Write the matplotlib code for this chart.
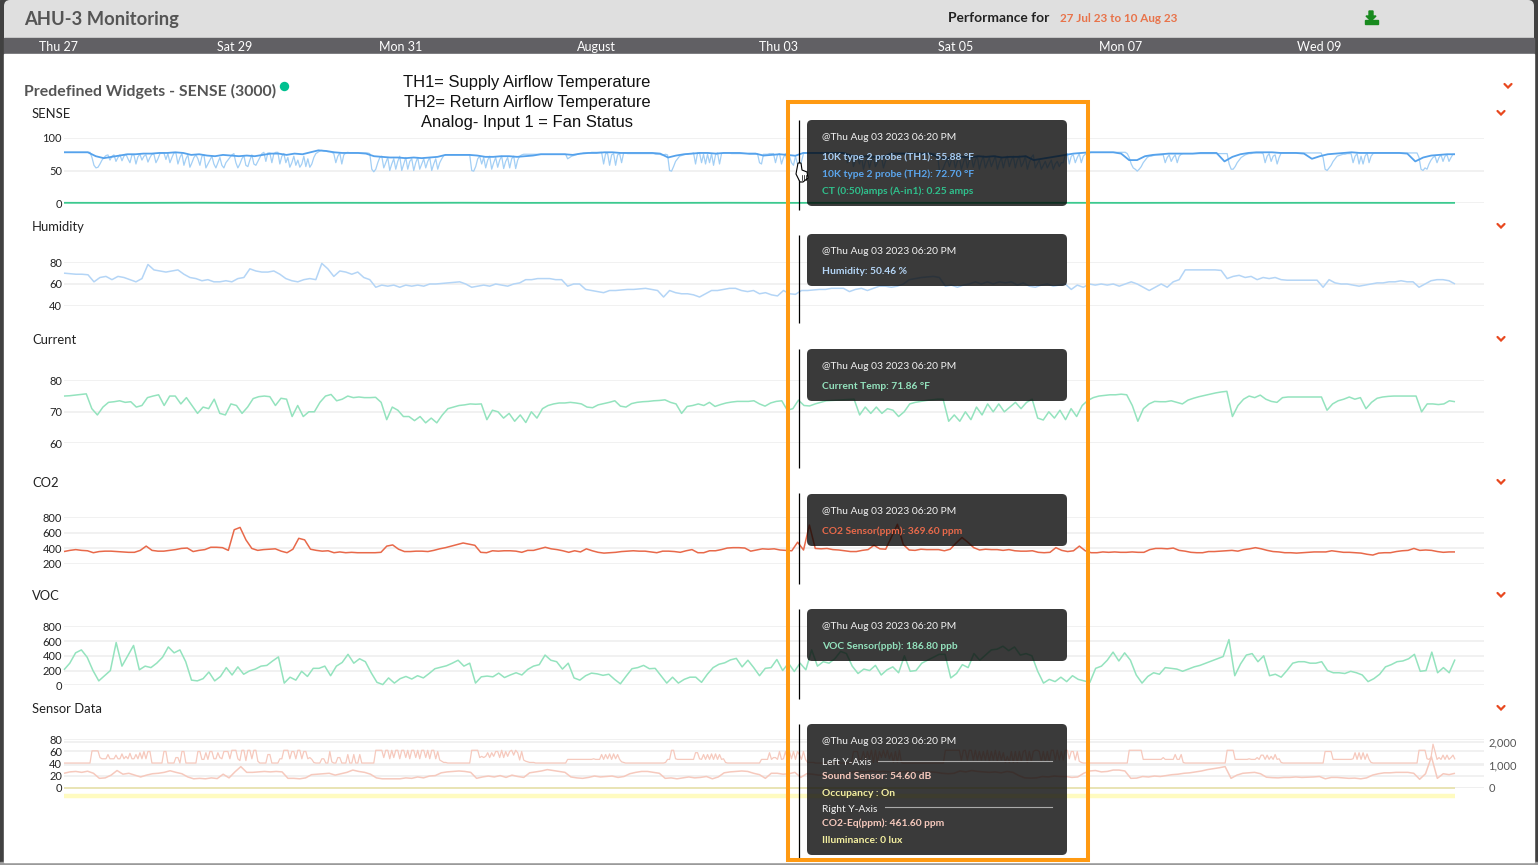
import numpy as np
import matplotlib
matplotlib.use("Agg")
import matplotlib.pyplot as plt
from matplotlib.colors import to_rgb
from matplotlib.patches import FancyBboxPatch, Polygon, Rectangle
from matplotlib.ticker import FuncFormatter

W, H = 1538, 865
X0, X_END, X_GRID = 64, 1455, 1484
DAY_SPAN = 14.0
PX_PER_DAY = (X_END - X0) / DAY_SPAN

date_labels = ["Thu 27", "Sat 29", "Mon 31", "August", "Thu 03", "Sat 05", "Mon 07", "Wed 09"]
date_days = [-0.06, 1.72, 3.39, 5.36, 7.19, 8.97, 10.63, 12.63]

th1 = [
    78, 78, 78, 78, 78, 78, 78, 78, 78, 78, 78, 78, 78, 78, 70, 58, 54, 55, 60, 66, 70, 73, 74, 66, 72,
    74, 64, 70, 74, 65, 72, 75, 68, 62, 74, 74, 60, 71, 75, 66, 72, 74, 63, 70, 75, 75, 62, 68, 76, 77,
    77, 67, 76, 62, 70, 77, 77, 60, 70, 76, 58, 68, 74, 55, 62, 70, 74, 68, 58, 72, 74, 54, 60, 66, 72,
    60, 54, 62, 70, 58, 54, 62, 66, 70, 74, 76, 62, 54, 60, 68, 73, 58, 56, 66, 74, 60, 58, 64, 70, 76,
    78, 64, 77, 77, 62, 76, 78, 78, 60, 72, 76, 62, 70, 55, 62, 72, 58, 66, 55, 60, 72, 56, 68, 55, 60,
    70, 76, 78, 80, 81, 80, 80, 79, 79, 78, 76, 62, 72, 77, 60, 74, 77, 78, 77, 77, 77, 77, 77, 77, 77,
    77, 77, 77, 76, 52, 48, 52, 62, 70, 72, 54, 62, 70, 50, 60, 68, 52, 64, 72, 50, 60, 70, 52, 64, 68,
    50, 62, 70, 52, 60, 68, 54, 64, 70, 50, 60, 68, 52, 62, 68, 73, 74, 74, 74, 74, 74, 74, 74, 74, 74,
    74, 74, 74, 74, 50, 49, 56, 68, 72, 60, 70, 54, 66, 72, 52, 62, 70, 55, 66, 72, 53, 64, 70, 54, 68,
    72, 53, 66, 72, 74, 75, 75, 75, 75, 75, 75, 75, 75, 75, 75, 75, 75, 75, 75, 75, 75, 75, 75, 75, 75,
    75, 75, 68, 70, 72, 73, 74, 75, 76, 76, 77, 77, 77, 77, 78, 78, 78, 78, 78, 78, 60, 76, 76, 58, 74,
    76, 58, 74, 76, 62, 77, 77, 76, 76, 76, 76, 76, 76, 76, 76, 76, 76, 76, 76, 76, 76, 75, 75, 75, 74,
    74, 75, 74, 50, 49, 56, 64, 68, 72, 73, 74, 75, 75, 76, 76, 77, 60, 77, 77, 62, 75, 60, 75, 62, 76,
    58, 74, 77, 60, 76, 77, 77, 77, 77, 76, 76, 76, 76, 76, 76, 76, 76, 76, 75, 75, 75, 75, 76, 62, 60,
    75, 75, 75, 76, 76, 76, 62, 74, 76, 60, 70, 76, 60, 72, 62, 58, 72, 60, 55.88, 64, 76, 77, 77, 77, 77,
    77, 77, 77, 77, 77, 77, 77, 77, 77, 77, 77, 77, 77, 77, 77, 77, 77, 62, 72, 74, 56, 66, 72, 60, 72,
    52, 64, 70, 54, 66, 72, 56, 62, 68, 72, 54, 64, 70, 76, 76, 76, 76, 76, 76, 76, 76, 76, 76, 76, 76,
    76, 76, 76, 76, 76, 76, 76, 76, 76, 76, 76, 76, 76, 50, 48, 54, 62, 68, 56, 66, 70, 54, 64, 70, 52,
    62, 72, 54, 66, 72, 55, 66, 72, 52, 64, 72, 54, 62, 70, 56, 64, 72, 52, 62, 70, 54, 66, 72, 56, 66,
    72, 54, 66, 72, 56, 62, 72, 52, 62, 70, 74, 54, 60, 66, 52, 58, 64, 54, 60, 66, 52, 60, 64, 56, 62,
    62, 74, 76, 60, 72, 74, 62, 70, 76, 62, 72, 75, 77, 77, 78, 78, 78, 78, 78, 78, 78, 78, 78, 78, 78,
    78, 78, 78, 78, 78, 78, 78, 76, 70, 60, 54, 52, 49, 52, 56, 62, 66, 70, 72, 72, 73, 74, 74, 74, 74,
    74, 62, 70, 74, 64, 70, 74, 62, 72, 75, 76, 76, 76, 76, 76, 76, 76, 76, 76, 76, 76, 76, 76, 76, 76,
    76, 76, 76, 76, 76, 76, 76, 76, 60, 52, 52, 56, 62, 66, 70, 72, 74, 75, 76, 76, 77, 77, 77, 77, 77,
    76, 62, 72, 76, 64, 72, 74, 60, 70, 77, 77, 77, 77, 77, 77, 77, 77, 77, 77, 77, 77, 77, 77, 77, 77,
    77, 77, 77, 77, 77, 70, 52, 50, 54, 58, 64, 68, 72, 73, 74, 75, 75, 76, 76, 76, 62, 72, 76, 60, 72,
    60, 72, 77, 62, 72, 76, 77, 77, 77, 77, 77, 77, 77, 77, 77, 77, 77, 77, 77, 77, 77, 77, 77, 77, 77,
    77, 77, 77, 70, 52, 50, 54, 52, 60, 66, 70, 72, 62, 70, 74, 64, 72, 74, 64, 70, 75, 75,
]
th2 = [
    78, 78, 78, 78, 72, 69, 71, 73, 75, 75, 76, 76,
    77, 77, 78, 77, 74, 75, 73, 72, 74, 73, 72, 73,
    72, 74, 76, 76, 74, 76, 75, 78, 81, 80, 78, 77,
    77, 77, 76, 72, 71, 70, 70, 69, 70, 69, 70, 71,
    74, 74, 74, 74, 73, 71, 71, 72, 72, 71, 72, 73,
    75, 75, 75, 75, 74, 76, 77, 77, 78, 78, 77, 77,
    77, 77, 77, 76, 70, 73, 75, 76, 77, 77, 76, 77,
    77, 77, 76, 76, 73, 74, 75, 74, 72.7, 77, 77, 77,
    77, 77, 77, 73, 71, 72, 71, 70, 76, 76, 76, 76,
    76, 76, 70, 68, 72, 71, 70, 72, 71, 72, 70, 71,
    71, 72, 66, 68, 70, 72, 74, 76, 77, 78, 78, 78,
    78, 76, 66, 66, 72, 74, 75, 76, 76, 76, 76, 77,
    77, 77, 64, 71, 75, 77, 78, 78, 78, 77, 77, 77,
    76, 68, 72, 75, 76, 77, 78, 77, 77, 77, 77, 77,
    77, 76, 64, 70, 73, 74, 75, 75,
]
ct_amps = [0.3, 0.2, 0.4, 0.2, 0.3, 0.25, 0.4, 0.2, 0.3, 0.2, 0.35, 0.2, 0.3, 0.25, 0.25, 0.3, 0.2, 0.3, 0.2, 0.3, 0.25, 0.2]

humidity = [
    70, 69.5, 69, 69, 68.5, 62, 66, 67, 64, 67, 66, 64, 62, 65, 78, 73, 72, 71, 72, 73, 69, 66, 65, 63, 64,
    62, 62, 63, 62, 65, 66, 74, 72, 71, 71, 72, 69, 65, 63, 62, 64, 65, 64, 79, 74, 67, 72, 71, 69, 71,
    66, 64, 57, 59, 58, 59, 57, 59, 58, 59, 58, 60, 60, 60.5, 61, 61.5, 62, 60, 57, 58, 59, 58, 60, 59, 58,
    60, 61, 64, 64, 65, 65, 65, 64, 64, 58, 60, 60, 55, 54, 53, 52, 54, 54, 54.5, 55, 55, 55.5, 56, 55, 54,
    48, 54, 52, 51, 51, 50, 48, 51, 54, 54, 55, 56, 56, 54, 53, 54, 51, 52, 50, 49, 54, 51,
    50.46, 54, 54, 54.5, 55, 55, 56, 56, 56, 53, 55, 56, 54, 56, 58, 58, 57, 58, 60, 64, 65, 66, 66.5, 67, 66,
    58, 59, 57, 59, 60, 62, 60, 62, 60, 62, 61, 62, 59, 61, 58, 57, 59, 60, 58, 59, 60, 55, 59, 57, 60,
    59, 60, 59, 60, 58, 60, 62, 60, 57, 54, 57, 60, 57, 62, 64, 73, 73, 73, 73, 73, 73, 72.5, 65, 67, 68,
    66, 67, 64, 66, 65, 66, 64, 63.5, 63.5, 63.5, 63.5, 63.5, 63.5, 57, 64, 61, 60, 60, 59, 58, 59, 60, 61, 61, 62,
    62, 63, 62, 62, 57, 60, 63, 64, 64, 63, 60,
]
current_temp = [
    75.0, 75.1, 75.3, 75.5, 75.7, 71, 69, 71.5, 73, 73.2, 73.5, 73, 73.2, 71.5, 72, 74.5, 75, 75.4, 72, 75, 75, 72.5, 74.5, 72, 69.5,
    71.5, 71, 74, 69.5, 69, 72.5, 72, 69.5, 71.5, 74.2, 74.8, 75, 74.8, 72, 74.3, 74, 68.5, 72, 68.5, 70, 70, 73, 75, 75.5, 73.5,
    74, 75, 74.5, 74.7, 74.5, 74.5, 74.6, 73, 67.5, 71.5, 70.5, 68.5, 68.5, 67.2, 68.5, 66.5, 68, 66.5, 69, 71, 71.5, 72, 72.2, 72.5, 72.4,
    72.5, 67.5, 70.5, 70, 68, 69.5, 67, 69, 66.6, 70, 68, 71, 72, 72.5, 72.8, 72.8, 73, 72.8, 72.5, 71.5, 71.3, 72.2, 72.6, 73, 73.5,
    71.8, 71.5, 72.6, 73, 73.2, 73.3, 73.5, 73.6, 73.8, 73, 72.5, 69.5, 71.7, 72, 72.5, 72, 73, 71.7, 72.3, 72.8, 73.1, 73.3, 73.3, 73.3, 73.5,
    72.5, 71.8, 72.8, 73.3, 73.5, 70.5, 71, 73.7, 72,
    71.86, 72.5, 73, 73.5, 73.6, 73.7, 73.8, 73.9, 74, 69, 71.5, 69.5, 71.5, 69.5, 71, 70.5, 68.5, 70, 72.5, 73, 73.3, 73.6, 73.8, 74, 74,
    67, 69, 67, 70, 67.5, 71.5, 69, 72.5, 70, 72.5, 70, 71.5, 73, 71, 73, 74, 68, 67.4, 70, 68, 70.5, 67.5, 71, 68.5, 72,
    73.6, 74.5, 75, 75.2, 75.4, 75.4, 75.6, 75.4, 72, 67, 71, 72.5, 73.3, 73.2, 73.2, 73.5, 73, 72.5, 73.7, 74.3, 74.8, 75.2, 75.6, 76, 76.3,
    76.5, 68.5, 72, 74, 75, 74.5, 75.3, 74, 73.3, 73, 74.5, 74.7, 74.7, 74.7, 74.7, 74.7, 74.7, 74.7, 70.5, 72.5, 73.5, 74, 74.7, 74, 74.5,
    71, 73, 74.3, 74.7, 74.9, 75, 75, 75, 75, 75, 70, 72.5, 72.5, 72.3, 72.5, 73.5, 73.2,
]
co2_ppm = [
    360, 375, 385, 375, 370, 345, 360, 365, 365, 360, 355, 350, 350, 375, 430, 375, 365, 365, 375, 385, 400, 405, 360, 375, 385,
    415, 415, 410, 375, 640, 670, 510, 400, 375, 385, 390, 395, 365, 345, 390, 530, 510, 390, 375, 365, 370, 345, 355, 345,
    350, 345, 345, 345, 345, 350, 430, 445, 390, 360, 360, 365, 365, 360, 375, 395, 410, 430, 450, 470, 455, 440, 350, 345, 370, 365,
    370, 370, 365, 350, 375, 375, 395, 415, 395, 385, 370, 350, 370, 355, 395, 370, 350, 340, 345, 350, 360, 365, 370, 365, 365,
    355, 345, 365, 365, 360, 350, 370, 385, 345, 345, 370, 370, 385, 405, 410, 410, 405, 365, 380, 395, 390, 395, 380, 375,
    369.6, 480, 380, 700, 400, 395, 400, 385, 380, 370, 360, 360, 375, 385, 440, 395, 390, 550, 710, 450, 380, 375, 390, 385, 385,
    385, 370, 390, 470, 540, 480, 410, 380, 390, 385, 385, 375, 385, 370, 365, 365, 370, 350, 345, 350, 410, 375, 360, 370,
    430, 370, 345, 345, 355, 350, 355, 350, 350, 355, 350, 350, 385, 400, 400, 395, 405, 375, 365, 350, 345, 345, 360, 360, 365,
    370, 375, 365, 385, 395, 410, 395, 375, 360, 355, 345, 345, 340, 345, 350, 355, 355, 355, 370, 360, 350, 350, 345, 340, 325,
    315, 340, 345, 345, 360, 370, 375, 400, 375, 380, 375, 360, 350, 355, 355,
]
voc_ppb = [
    210, 300, 440, 480, 380, 200, 60, 130, 200, 580, 260, 400, 540, 210, 260, 240, 300, 380, 520, 440, 480, 320, 70, 60, 90,
    180, 60, 120, 240, 140, 250, 150, 195, 220, 260, 270, 330, 385, 30, 110, 70, 190, 120, 230, 230, 260, 130, 260, 310, 420,
    300, 360, 320, 170, 40, 10, 100, 30, 90, 120, 85, 130, 100, 160, 225, 245, 265, 300, 340, 260, 300, 30, 115, 125, 115,
    165, 105, 140, 170, 140, 215, 260, 280, 410, 340, 320, 220, 300, 100, 70, 130, 165, 155, 135, 150, 80, 20, 125, 225, 240,
    270, 225, 230, 130, 30, 110, 30, 80, 110, 110, 40, 150, 240, 285, 305, 345, 365, 250, 340, 240, 130, 230, 240, 350, 200,
    300, 186.8, 300,
    210, 480, 260, 320, 300, 360, 460, 430, 260, 160, 220, 200, 270, 140, 210, 250, 170, 400, 190, 200, 300, 340, 380, 420, 420,
    100, 160, 280, 240, 430, 340, 410, 480, 490, 530, 470, 520, 410, 430, 400, 190, 30, 80, 50, 110, 50, 130, 80, 60, 40,
    230, 260, 340, 450, 330, 440, 340, 140, 30, 120, 170, 150, 240, 230, 220, 190, 220, 250, 270, 300, 330, 360, 390, 620, 130,
    290, 410, 430, 320, 400, 130, 150, 110, 200, 300, 320, 320, 300, 300, 320, 200, 170, 170, 160, 190, 170, 140, 50, 90, 150,
    250, 280, 320, 330, 360, 420, 190, 200, 450, 170, 240, 170, 350,
]
sound_db = [
    41, 41, 41, 41, 41, 41, 41, 41, 41, 41, 41, 41, 41, 41, 61, 61, 61, 61, 50, 48, 48, 48, 55, 48, 48,
    48, 54, 48, 48, 56, 48, 52, 48, 57, 48, 48, 55, 48, 58, 48, 60, 48, 60, 60, 41, 41, 41, 41, 41, 41,
    60, 60, 41, 41, 41, 41, 50, 50, 41, 60, 60, 41, 41, 41, 41, 41, 41, 60, 60, 47, 47, 58, 47, 60, 60,
    48, 48, 58, 50, 48, 60, 60, 60, 48, 62, 62, 62, 48, 45, 62, 62, 45, 62, 62, 48, 62, 62, 44, 41, 41,
    41, 41, 55, 55, 41, 41, 41, 41, 48, 48, 62, 62, 62, 48, 60, 60, 48, 62, 62, 48, 60, 60, 48, 50, 47,
    42, 41, 41, 41, 48, 48, 41, 41, 60, 43, 41, 41, 50, 50, 41, 41, 41, 55, 41, 41, 55, 41, 41, 55, 41,
    41, 41, 41, 41, 41, 41, 62, 62, 62, 62, 50, 62, 62, 48, 62, 50, 62, 62, 48, 62, 62, 50, 62, 48, 62,
    62, 50, 62, 48, 62, 62, 50, 62, 48, 62, 62, 48, 60, 46, 44, 42, 42, 41, 41, 41, 41, 41, 41, 41, 41,
    41, 41, 41, 41, 62, 62, 62, 62, 50, 52, 50, 52, 58, 50, 58, 52, 60, 60, 50, 62, 50, 60, 52, 60, 62,
    54, 62, 58, 46, 60, 46, 44, 43, 42, 42, 42, 41, 41, 41, 41, 41, 41, 41, 41, 41, 41, 41, 41, 41, 41,
    41, 41, 47, 47, 47, 47, 47, 47, 47, 47, 47, 47, 47, 47, 47, 48, 47, 47, 47, 55, 47, 55, 48, 56, 47,
    56, 48, 55, 47, 43, 42, 41, 41, 41, 41, 41, 41, 41, 41, 41, 41, 41, 41, 41, 41, 41, 41, 41, 41, 41,
    41, 42, 47, 47, 62, 62, 48, 47, 47, 47, 47, 47, 47, 47, 47, 47, 58, 58, 48, 47, 55, 47, 55, 47, 56,
    47, 56, 47, 55, 47, 48, 42, 41, 41, 41, 41, 41, 41, 41, 41, 41, 41, 41, 41, 41, 41, 41, 41, 41, 47,
    47, 47, 47, 58, 47, 50, 50, 47, 60, 47, 48, 60, 47, 60, 48, 60, 47, 60, 54.6, 47, 60, 47, 42, 42, 42,
    42, 41, 41, 41, 41, 41, 41, 41, 41, 41, 41, 41, 41, 41, 41, 41, 41, 41, 41, 41, 60, 60, 60, 45, 48,
    60, 45, 60, 48, 62, 42, 62, 42, 60, 50, 62, 50, 62, 48, 58, 42, 60, 42, 62, 42, 41, 41, 41, 41, 41,
    41, 41, 41, 41, 41, 41, 41, 41, 41, 41, 41, 41, 41, 41, 41, 41, 62, 62, 62, 62, 62, 62, 62, 62, 46,
    62, 62, 46, 62, 62, 46, 62, 46, 60, 46, 60, 46, 62, 44, 60, 46, 62, 44, 60, 46, 58, 42, 52, 42, 60,
    42, 60, 42, 60, 44, 60, 62, 42, 60, 44, 60, 62, 62, 60, 44, 60, 44, 60, 44, 62, 62, 46, 62, 46, 60,
    46, 62, 62, 48, 60, 60, 46, 60, 44, 42, 41, 41, 41, 41, 41, 41, 41, 41, 41, 41, 41, 41, 41, 41, 41,
    41, 41, 41, 41, 41, 41, 41, 41, 62, 62, 62, 62, 62, 62, 62, 47, 47, 47, 47, 47, 47, 47, 47, 47, 47,
    50, 47, 47, 47, 47, 47, 55, 47, 47, 55, 42, 41, 41, 41, 41, 41, 41, 41, 41, 41, 41, 41, 41, 41, 41,
    41, 41, 41, 41, 41, 41, 41, 62, 62, 62, 62, 47, 47, 47, 47, 47, 47, 47, 48, 47, 47, 47, 50, 47, 54,
    54, 47, 54, 47, 52, 47, 55, 47, 48, 42, 41, 41, 41, 41, 41, 41, 41, 41, 41, 41, 41, 41, 41, 41, 41,
    41, 41, 41, 41, 41, 41, 60, 60, 60, 60, 47, 47, 47, 47, 47, 47, 47, 47, 47, 47, 48, 58, 47, 58, 47,
    58, 47, 56, 47, 42, 41, 41, 41, 41, 41, 41, 41, 41, 41, 41, 41, 41, 41, 41, 41, 41, 41, 41, 41, 41,
    41, 41, 41, 62, 62, 62, 62, 48, 47, 50, 72, 60, 47, 50, 47, 54, 47, 54, 47, 50, 54, 47,
]
co2_eq_ppm = [
    640, 700, 720, 680, 730, 640, 420, 440, 560, 760, 600, 640, 560, 480, 560, 620, 640, 680, 750, 680, 620, 480, 400, 420, 400,
    440, 410, 600, 440, 700, 930, 680, 680, 700, 720, 700, 720, 700, 420, 420, 400, 440, 580, 600, 620, 640, 560, 620, 680, 780,
    720, 680, 600, 440, 400, 400, 400, 400, 440, 420, 480, 440, 520, 540, 660, 700, 720, 740, 720, 680, 420, 480, 520, 480, 540,
    460, 560, 500, 460, 660, 700, 740, 800, 760, 720, 680, 480, 440, 420, 460, 520, 480, 500, 520, 460, 500, 620, 680, 720, 720,
    680, 640, 420, 440, 400, 440, 480, 440, 460, 500, 400, 480, 660, 700, 720, 740, 720, 640, 580, 420, 640,
    640, 600, 620, 680, 461.6,
    620, 600, 560, 560, 560, 600, 560, 620, 700, 720, 700, 740, 700, 720, 700, 680, 700, 720, 680, 700, 660, 700, 680, 640, 620,
    640, 740, 700, 760, 720, 700, 680, 700, 660, 720, 680, 540, 440, 430, 440, 500, 480, 520, 500, 500, 460, 480, 640, 740, 760,
    700, 720, 780, 780, 740, 420, 430, 500, 480, 520, 500, 540, 580, 600, 640, 660, 700, 740, 800, 840, 880, 930, 420, 560, 640,
    660, 680, 620, 470, 450, 440, 460, 460, 480, 460, 470, 480, 500, 400, 460, 460, 440, 420, 430, 400, 440, 560, 620, 660, 660,
    680, 680, 680, 640, 380, 620, 1360, 420, 620, 580, 640,
]
illuminance_lux = [0, 0, 0, 0, 0, 0, 0, 0, 0, 0, 0, 0, 0, 0, 0]
occupancy_level = [-12.5, -12.5, -12.5, -12.5, -12.5, -12.5, -12.5, -12.5, -12.5, -12.5, -12.5, -12.5, -12.5, -12.5, -12.5]

plt.rcParams["font.family"] = ["Lato", "DejaVu Sans"]

fig = plt.figure(figsize=(W / 100, H / 100), dpi=100, facecolor="white")

# backdrop and page furniture sit on a full-figure axes measured in pixels
back = fig.add_axes([0, 0, 1, 1], zorder=0)
back.set_xlim(0, W)
back.set_ylim(H, 0)
back.axis("off")
back.add_patch(Rectangle((0, 0), W, H, color="#414141"))
back.add_patch(Rectangle((0, 862), W, 3, color="#9a9a9a"))
back.add_patch(FancyBboxPatch((9, 5), 1520, 60, boxstyle="round,pad=5,rounding_size=6", fc="#dfdfdf", ec="none"))
back.add_patch(Rectangle((4, 38), 1530, 16, color="#616064"))
back.add_patch(Rectangle((4, 54), 1530, 808, color="white"))


def make_panel(top_px, bottom_px, ticks):
    ax = fig.add_axes([X0 / W, 1 - bottom_px / H, (X_GRID - X0) / W, (bottom_px - top_px) / H], zorder=1)
    ax.patch.set_alpha(0)
    ax.set_xlim(0, (X_GRID - X0) / PX_PER_DAY)
    ax.set_ylim(ticks[0], ticks[-1])
    ax.set_yticks(ticks)
    ax.set_xticks([])
    ax.tick_params(axis="y", length=0, pad=1.5, labelsize=8, labelcolor="#222222")
    ax.grid(axis="y", color="#efefef", lw=1.2)
    ax.set_axisbelow(True)
    for s in ax.spines.values():
        s.set_visible(False)
    return ax


def draw(ax, values, color, lw=1.1):
    x = np.linspace(0, DAY_SPAN, len(values))
    ax.plot(x, values, color=color, lw=lw, clip_on=False, solid_joinstyle="round", solid_capstyle="butt")
    drawn.append((ax, x, values, color, lw))


drawn = []

ax_sense = make_panel(138, 203, [0, 50, 100])
draw(ax_sense, ct_amps, "#3cc98f", 1.3)
draw(ax_sense, th1, "#a3cff5", 0.9)
draw(ax_sense, th2, "#55a2ec", 1.3)

ax_hum = make_panel(262.3, 305.7, [40, 60, 80])
draw(ax_hum, humidity, "#b4d5f6")

ax_cur = make_panel(380.3, 443.3, [60, 70, 80])
draw(ax_cur, current_temp, "#94e3be")

ax_co2 = make_panel(517.3, 564, [200, 400, 600, 800])
draw(ax_co2, co2_ppm, "#e8694a")

ax_voc = make_panel(626.3, 685.3, [0, 200, 400, 600, 800])
draw(ax_voc, voc_ppb, "#94e3be")

ax_sensor = make_panel(739.3, 788, [0, 20, 40, 60, 80])
draw(ax_sensor, occupancy_level, "#fffbc0", 3.2)
draw(ax_sensor, sound_db, "#f6c9bd", 0.9)

ax_right = ax_sensor.twinx()
ax_right.patch.set_alpha(0)
ax_right.set_ylim(0, 2000 * 48.7 / 46)
ax_right.set_yticks([0, 1000, 2000])
ax_right.yaxis.set_major_formatter(FuncFormatter(lambda v, _: f"{int(v):,}"))
ax_right.tick_params(axis="y", length=0, pad=3, labelsize=8, labelcolor="#555555")
ax_right.grid(axis="y", color="#efefef", lw=1.2)
for s in ax_right.spines.values():
    s.set_visible(False)
draw(ax_right, co2_eq_ppm, "#f6c9bd", 1.1)
draw(ax_right, illuminance_lux, "#e9e4b4", 1.4)

# overlay: titles, tooltips and the highlight box
top = fig.add_axes([0, 0, 1, 1], zorder=3)
top.set_xlim(0, W)
top.set_ylim(H, 0)
top.axis("off")

top.text(24, 19.5, "AHU-3 Monitoring", fontsize=13.2, fontweight="bold", color="#555555", va="center")
top.text(1049, 18, "Performance for", fontsize=9.9, fontweight="bold", color="#222222", va="center", ha="right")
top.text(1060, 18, "27 Jul 23 to 10 Aug 23", fontsize=8.4, fontweight="bold", color="#e8734a", va="center")

# download icon
top.add_patch(Polygon([(1369, 11), (1373, 11), (1373, 16), (1376, 16), (1371, 21), (1366, 16), (1369, 16)], color="#188a1e"))
top.add_patch(Rectangle((1365, 20), 13, 4, color="#188a1e"))

for label, day in zip(date_labels, date_days):
    top.text(X0 + day * PX_PER_DAY, 47.3, label, fontsize=9, color="white", ha="center", va="center")

top.text(24, 91, "Predefined Widgets - SENSE (3000)", fontsize=11.4, fontweight="bold", color="#555555", va="center")
top.scatter([283.5], [86], s=46, color="#00c08f", linewidths=0)

for i, line in enumerate(["TH1= Supply Airflow Temperature", "TH2= Return Airflow Temperature", "Analog- Input 1 = Fan Status"]):
    top.text(527, 82.5 + 20 * i, line, family="Liberation Sans", fontsize=11.9, color="#111111", ha="center", va="center")

for label, y in [("SENSE", 114), ("Humidity", 227), ("Current", 340), ("CO2", 483), ("VOC", 596), ("Sensor Data", 709)]:
    top.text(32, y, label, fontsize=9.4, color="#222222", va="center")

for x, y in [(1508, 86), (1501, 113), (1501, 226), (1501, 339), (1501, 482), (1501, 595), (1501, 708)]:
    top.plot([x - 3.5, x, x + 3.5], [y - 2, y + 1.5, y - 2], color="#e8481f", lw=1.6, solid_capstyle="round", solid_joinstyle="miter")

TIP_X0, TIP_X1 = 807, 1067
tips = [
    (120, 206, [ax_sense]),
    (234, 286, [ax_hum]),
    (349, 401, [ax_cur]),
    (494, 546, [ax_co2]),
    (609, 661, [ax_voc]),
    (724, 855, [ax_sensor, ax_right]),
]
for y0, y1, axes in tips:
    r = 5
    box = FancyBboxPatch((TIP_X0 + r, y0 + r), TIP_X1 - TIP_X0 - 2 * r, y1 - y0 - 2 * r,
                         boxstyle=f"round,pad={r},rounding_size={r}", fc="#3a3a3a", ec="none", zorder=3)
    top.add_patch(box)
    # series show through the tooltip as darkened traces
    for ax, x, values, color, lw in drawn:
        if ax in axes:
            dark = tuple(c * 0.24 for c in to_rgb(color))
            ln, = top.plot(x, values, color=dark, lw=lw, transform=ax.transData, zorder=3.5, scalex=False, scaley=False)
            ln.set_clip_path(box)

cursor_segments = [(120, 210), (235, 323), (349, 468), (493, 584), (609, 699), (724, 860)]
for y0, y1 in cursor_segments:
    top.plot([799, 799], [y0, y1], color="black", lw=0.9, zorder=4, solid_capstyle="butt")

top.add_patch(Rectangle((787.5, 102), 300.5, 758, fc="none", ec="#ff9a12", lw=2.9, zorder=4))

tip_font = 7.4
WHITE, STAMP = "#f2f2f2", "@Thu Aug 03 2023 06:20 PM"
tip_lines = [
    (136, STAMP, WHITE), (156, "10K type 2 probe (TH1): 55.88 °F", "#a9cef4"),
    (173, "10K type 2 probe (TH2): 72.70 °F", "#5ba6ee"), (190, "CT (0:50)amps (A-in1): 0.25 amps", "#2fc08c"),
    (250, STAMP, WHITE), (270, "Humidity: 50.46 %", "#b4d5f6"),
    (365, STAMP, WHITE), (385, "Current Temp: 71.86 °F", "#94e3be"),
    (510, STAMP, WHITE), (530, "CO2 Sensor(ppm): 369.60 ppm", "#e8694a"),
    (625, STAMP, WHITE), (645, "VOC Sensor(ppb): 186.80 ppb", "#94e3be"),
    (740, STAMP, WHITE), (761, "Left Y-Axis", WHITE), (775, "Sound Sensor: 54.60 dB", "#f6c9bd"),
    (792, "Occupancy : On", "#f5f0a0"), (808, "Right Y-Axis", WHITE),
    (822, "CO2-Eq(ppm): 461.60 ppm", "#f6c9bd"), (839, "Illuminance: 0 lux", "#f5f0a0"),
]
for y, text, color in tip_lines:
    bold = color != WHITE
    top.text(822, y + 1.2, text, fontsize=tip_font, color=color, va="center", fontweight="bold" if bold else "normal", zorder=5)
top.plot([878, 1052], [761, 761], color="#aaaaaa", lw=0.8, zorder=5)
top.plot([885, 1052], [807, 807], color="#aaaaaa", lw=0.8, zorder=5)

# pointer hand over the first tooltip's edge
hand = Polygon([(798, 163), (801, 163), (802, 170), (807, 172), (808, 178), (803, 182), (800, 182), (796, 174)],
               fc="white", ec="black", lw=0.8, zorder=6)
top.add_patch(hand)
for hx in (801.5, 803.5, 805.5):
    top.plot([hx, hx], [175, 180], color="black", lw=0.5, zorder=6)

fig.savefig("out.png", dpi=100)
